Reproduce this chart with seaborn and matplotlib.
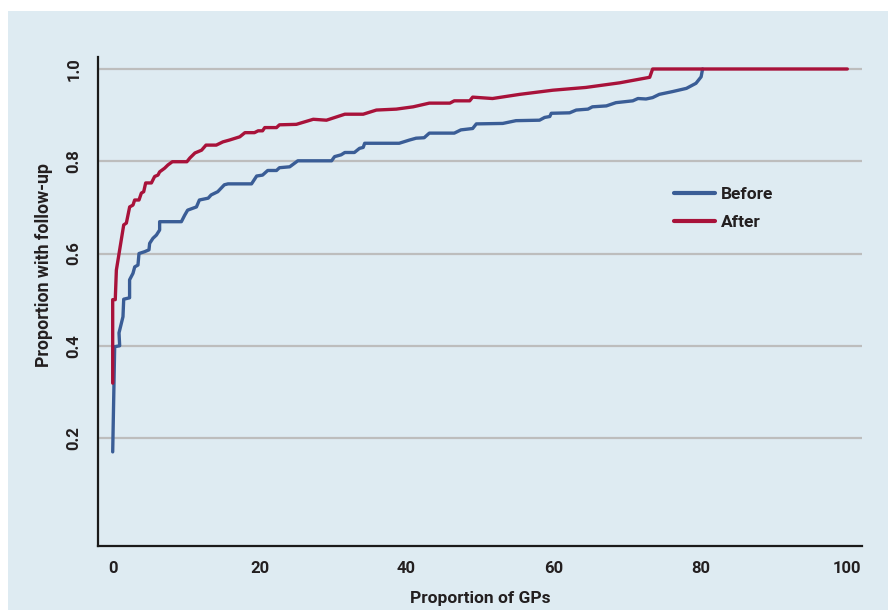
import pandas as pd
import matplotlib.pyplot as plt
import seaborn as sns
from matplotlib.patches import Rectangle

# Curva "Before": proporção de GPs (%) vs proporção com follow-up
before_x = [0, 0.27, 0.95, 0.86, 1.4, 1.5, 2.3, 2.3, 2.76, 3.0, 3.44, 3.58, 4.35, 4.94,
            5.03, 5.48, 5.95, 6.39, 6.39, 9.35, 9.8, 10.2, 11.4, 11.8, 13.0, 13.4, 14.3,
            15.2, 15.7, 18.9, 19.6, 20.4, 21.1, 22.3, 22.7, 24.1, 25.2, 29.8, 30.2, 31.1,
            31.6, 32.9, 33.6, 34.1, 34.3, 39.0, 40.4, 41.3, 42.4, 43.1, 46.5, 47.4, 49.0,
            49.5, 53.1, 54.9, 58.1, 58.8, 59.5, 59.7, 62.2, 63.1, 64.7, 65.3, 67.2, 68.5,
            70.8, 71.5, 72.6, 73.5, 74.4, 76.2, 78.1, 79.4, 80.1, 80.3]
before_y = [0.170, 0.398, 0.400, 0.428, 0.463, 0.501, 0.504, 0.543, 0.557, 0.571, 0.575,
            0.600, 0.604, 0.608, 0.622, 0.633, 0.640, 0.651, 0.669, 0.669, 0.683, 0.694,
            0.701, 0.716, 0.720, 0.727, 0.734, 0.749, 0.751, 0.751, 0.768, 0.770, 0.780,
            0.780, 0.786, 0.788, 0.801, 0.801, 0.810, 0.814, 0.819, 0.819, 0.828, 0.830,
            0.839, 0.839, 0.846, 0.850, 0.851, 0.861, 0.861, 0.868, 0.871, 0.881, 0.882,
            0.888, 0.889, 0.895, 0.897, 0.904, 0.905, 0.911, 0.913, 0.918, 0.920, 0.927,
            0.931, 0.936, 0.935, 0.938, 0.945, 0.951, 0.958, 0.969, 0.983, 1.0]

# Curva "After"
after_x = [0, 0, 0.35, 0.5, 1.5, 1.86, 2.31, 2.76, 2.99, 3.58, 3.9, 4.22, 4.49, 5.27, 5.71,
           6.16, 6.39, 7.07, 7.52, 8.12, 10.1, 10.5, 11.2, 12.1, 12.7, 14.1, 15.0, 15.9,
           17.3, 18.0, 19.3, 19.8, 20.4, 20.7, 22.3, 22.7, 25.0, 27.3, 29.1, 31.6, 34.1,
           35.9, 38.6, 40.9, 43.1, 45.9, 46.5, 48.6, 49.0, 51.7, 55.4, 59.9, 64.4, 69.0,
           73.1, 73.5, 100]
after_y = [0.319, 0.500, 0.500, 0.564, 0.662, 0.666, 0.701, 0.705, 0.716, 0.716, 0.731,
           0.734, 0.753, 0.753, 0.767, 0.770, 0.777, 0.785, 0.792, 0.799, 0.799, 0.807,
           0.818, 0.824, 0.835, 0.835, 0.842, 0.846, 0.853, 0.862, 0.862, 0.866, 0.866,
           0.873, 0.873, 0.879, 0.880, 0.891, 0.889, 0.902, 0.902, 0.911, 0.913, 0.918,
           0.926, 0.926, 0.931, 0.931, 0.939, 0.936, 0.945, 0.954, 0.960, 0.970, 0.982,
           1.0, 1.0]

x_ticks = [0, 20, 40, 60, 80, 100]
y_ticks = [0.2, 0.4, 0.6, 0.8, 1.0]

df = pd.concat([
    pd.DataFrame({'gps': before_x, 'followup': before_y, 'periodo': 'Before'}),
    pd.DataFrame({'gps': after_x, 'followup': after_y, 'periodo': 'After'}),
], ignore_index=True)

sns.set_theme(style='white')
plt.rcParams['font.family'] = ['Roboto', 'DejaVu Sans']
plt.rcParams['font.weight'] = 'bold'

fundo = '#deebf2'
fig = plt.figure(figsize=(8.88, 6.10), dpi=100, facecolor='white')
fig.patches.append(Rectangle((8 / 888, 0), 1, 1 - 11 / 610, transform=fig.transFigure,
                             facecolor=fundo, edgecolor='none', zorder=-10))
ax = fig.add_axes([98 / 888, 1 - 546 / 610, 764 / 888, 489 / 610])
ax.set_facecolor('none')

sns.lineplot(data=df, x='gps', y='followup', hue='periodo', sort=False, estimator=None,
             palette={'Before': '#3a5d96', 'After': '#a8123a'}, linewidth=2.4, ax=ax)

ax.set_xlim(-2, 102)
ax.set_ylim(-0.034, 1.026)
ax.set_xticks(x_ticks)
ax.set_yticks(y_ticks)
ax.set_yticklabels([f'{v:.1f}' for v in y_ticks], rotation=90, va='center')
ax.yaxis.grid(True, color='#bdbdbd', linewidth=1.6)
ax.xaxis.grid(False)
ax.set_axisbelow(True)

for s in ['top', 'right']:
    ax.spines[s].set_visible(False)
for s in ['left', 'bottom']:
    ax.spines[s].set_color('#1a1a1a')
    ax.spines[s].set_linewidth(1.6)

ax.tick_params(axis='both', which='major', direction='out', length=5, width=1.6,
               color='#1a1a1a', labelsize=12, labelcolor='#231f20')
ax.tick_params(axis='y', pad=7)
ax.tick_params(axis='x', pad=6)
ax.set_xlabel('Proportion of GPs', fontsize=12.5, fontweight='bold', color='#231f20')
ax.set_ylabel('Proportion with follow-up', fontsize=12.8, fontweight='bold', color='#231f20')
ax.xaxis.set_label_coords(0.5, -0.092)
ax.yaxis.set_label_coords(-0.059, 0.575)

leg = ax.legend(loc='upper left', bbox_to_anchor=(0.742, 0.752), frameon=False,
                handlelength=2.4, handletextpad=0.35, labelspacing=0.75, borderpad=0,
                prop={'size': 12.5, 'weight': 'bold'})
for t in leg.get_texts():
    t.set_color('#231f20')
for l in leg.get_lines():
    l.set_linewidth(3)

fig.savefig('out.png', dpi=100, facecolor='white')
